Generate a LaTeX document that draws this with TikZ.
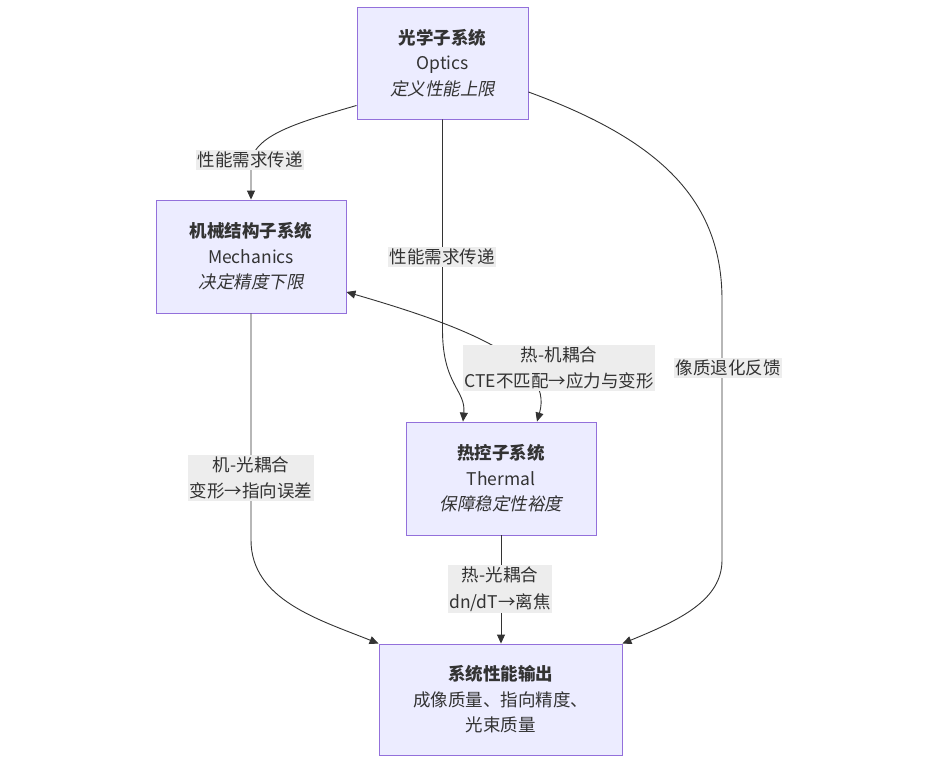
\documentclass[tikz,border=0pt]{standalone}
\usepackage{fontspec}
\setmainfont{Noto Sans CJK SC}[AutoFakeSlant=0.2]
\usetikzlibrary{arrows.meta,positioning}
\definecolor{boxfill}{HTML}{ECECFF}
\definecolor{boxline}{HTML}{9370DB}
\definecolor{wire}{HTML}{333333}
\definecolor{tagfill}{HTML}{EDEDED}

\begin{document}
\begin{tikzpicture}[
  x=1pt, y=1pt,
  sbox/.style={draw=boxline, fill=boxfill, line width=0.9pt, align=center, text=wire,
               font=\fontsize{17.5}{25.5}\selectfont, inner sep=0pt},
  tag/.style={fill=tagfill, text=wire, align=center,
              font=\fontsize{17.5}{26.5}\selectfont, inner xsep=1.5pt, inner ysep=2pt},
  flow/.style={draw=wire, line width=0.9pt, -{Triangle[length=9pt,width=8pt]}},
  twoway/.style={flow, {Triangle[length=9pt,width=8pt]}-{Triangle[length=9pt,width=8pt]}}
]
  \useasboundingbox (0,0) rectangle (945,-763);

  \node[sbox, minimum width=171pt, minimum height=112pt] (opt) at (442.5,-63) {
    \textbf{光学子系统}\\Optics\\\textit{定义性能上限}
  };
  \node[sbox, minimum width=190pt, minimum height=113pt] (mech) at (251,-256.5) {
    \textbf{机械结构子系统}\\Mechanics\\\textit{决定精度下限}
  };
  \node[sbox, minimum width=190pt, minimum height=113pt] (therm) at (501,-478.5) {
    \textbf{热控子系统}\\Thermal\\\textit{保障稳定性裕度}
  };
  \node[sbox, minimum width=243pt, minimum height=111pt] (perf) at (500.5,-699.5) {
    \textbf{系统性能输出}\\成像质量、指向精度、\\光束质量
  };

  \draw[flow] ([yshift=14pt]opt.south west) .. controls (300,-122) and (251,-135) .. (251,-165) -- (mech.north);
  \draw[flow] (opt.south) -- (442.5,-330) .. controls (442.5,-385) and (466,-390) .. ([xshift=-38pt]therm.north);
  \draw[twoway] ([yshift=-35.5pt]mech.east) .. controls (460,-325) and (555,-360) .. ([xshift=36pt]therm.north);
  \draw[flow] (mech.south) -- (251,-540) .. controls (251,-600) and (320,-620) .. (perf.north west);
  \draw[flow] (therm.south) -- (therm.south |- perf.north);
  \draw[flow] ([yshift=-29pt]opt.east) .. controls (660,-140) and (722,-200) .. (722,-300) -- (722,-560)
    .. controls (722,-600) and (680,-620) .. (perf.north east);

  \node[tag] (need1) at (250,-160) {性能需求传递};
  \node[tag] (need2) at (442,-257) {性能需求传递};
  \node[tag] (tm) at (559,-368) {热-机耦合\\CTE不匹配→应力与变形};
  \node[tag] (mo) at (251,-478) {机-光耦合\\变形→指向误差};
  \node[tag] (to) at (500,-589) {热-光耦合\\dn/dT→离焦};
  \node[tag] (fb) at (728,-368) {像质退化反馈};
\end{tikzpicture}
\end{document}
